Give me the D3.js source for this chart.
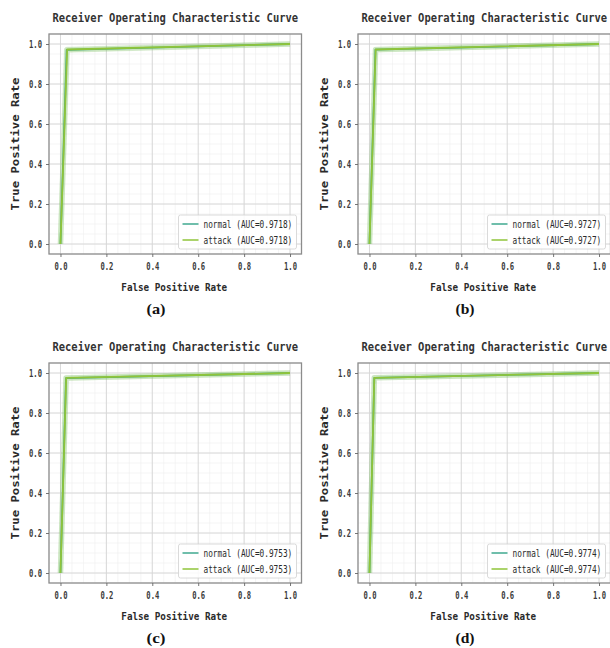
<!DOCTYPE html>
<html><head><meta charset="utf-8">
<script src="https://cdn.jsdelivr.net/npm/d3@7"></script>
<style>body{margin:0;background:#fff}svg{display:block}</style>
</head><body><svg id="c" width="610" height="648"></svg>
<script>
const panelLabels = ["(a)", "(b)", "(c)", "(d)"];
const titleText = "Receiver Operating Characteristic Curve";
const xLabelText = "False Positive Rate";
const yLabelText = "True Positive Rate";
const seriesNames = ["normal", "attack"];
const aucValues = [0.9718, 0.9727, 0.9753, 0.9774];
const fprNormal = [[0, 0.027, 1], [0, 0.026, 1], [0, 0.024, 1], [0, 0.021, 1]];
const tprNormal = [[0, 0.9706, 1], [0, 0.9714, 1], [0, 0.9746, 1], [0, 0.9758, 1]];
const fprAttack = [[0, 0.029, 1], [0, 0.027, 1], [0, 0.025, 1], [0, 0.021, 1]];
const tprAttack = [[0, 0.9726, 1], [0, 0.9724, 1], [0, 0.9756, 1], [0, 0.9758, 1]];
const tickValues = [0, 0.2, 0.4, 0.6, 0.8, 1.0];
const tickLabels = ["0.0", "0.2", "0.4", "0.6", "0.8", "1.0"];

const colors = {normal: "#3fa98f", attack: "#8fc43a"};
const mono = "'DejaVu Sans Mono', 'Liberation Mono', monospace";
const svg = d3.select("#c");

const x = d3.scaleLinear().domain([-0.05, 1.05]).range([49, 301.5]);
const y = d3.scaleLinear().domain([-0.05, 1.05]).range([254, 34]);
const minorTicks = d3.range(-0.05, 1.0501, 0.05);

function condText(parent, str, px, py, size, width, anchor, weight, fill, family) {
  const t = parent.append("text").attr("font-family", family || mono).attr("font-size", size)
    .attr("font-weight", weight || "normal").attr("fill", fill || "#2a2a2a")
    .attr("text-anchor", anchor).text(str);
  const nat = t.node().getComputedTextLength();
  const sx = width ? width / nat : 1;
  t.attr("transform", `translate(${px},${py}) scale(${sx},1)`);
  return t;
}

panelLabels.forEach((lab, i) => {
  const col = i % 2, row = Math.floor(i / 2);
  const g = svg.append("g").attr("transform", `translate(${309 * col},${329 * row})`);
  const clipId = "clip" + i;
  g.append("clipPath").attr("id", clipId).append("rect")
    .attr("x", x.range()[0]).attr("y", y.range()[1])
    .attr("width", x.range()[1] - x.range()[0]).attr("height", y.range()[0] - y.range()[1]);

  const grid = g.append("g");
  minorTicks.forEach(t => {
    grid.append("line").attr("x1", x(t)).attr("x2", x(t)).attr("y1", y.range()[1]).attr("y2", y.range()[0])
      .attr("stroke", "#eeeeee").attr("stroke-width", 0.6);
    grid.append("line").attr("y1", y(t)).attr("y2", y(t)).attr("x1", x.range()[0]).attr("x2", x.range()[1])
      .attr("stroke", "#eeeeee").attr("stroke-width", 0.6);
  });
  tickValues.forEach(t => {
    grid.append("line").attr("x1", x(t)).attr("x2", x(t)).attr("y1", y.range()[1]).attr("y2", y.range()[0])
      .attr("stroke", "#d6d6d6").attr("stroke-width", 0.9);
    grid.append("line").attr("y1", y(t)).attr("y2", y(t)).attr("x1", x.range()[0]).attr("x2", x.range()[1])
      .attr("stroke", "#d6d6d6").attr("stroke-width", 0.9);
  });

  const line = d3.line().x(d => x(d[0])).y(d => y(d[1]));
  const curves = [
    {name: "normal", pts: d3.zip(fprNormal[i], tprNormal[i])},
    {name: "attack", pts: d3.zip(fprAttack[i], tprAttack[i])}
  ];
  const cg = g.append("g").attr("clip-path", `url(#${clipId})`);
  curves.forEach(c => {
    cg.append("path").attr("d", line(c.pts)).attr("fill", "none")
      .attr("stroke", "#7cc060").attr("stroke-width", 5.5).attr("stroke-opacity", 0.22)
      .attr("stroke-linejoin", "round");
  });
  curves.forEach(c => {
    cg.append("path").attr("d", line(c.pts)).attr("fill", "none")
      .attr("stroke", colors[c.name]).attr("stroke-width", 1.8)
      .attr("stroke-linejoin", "round");
  });

  g.append("rect").attr("x", x.range()[0]).attr("y", y.range()[1])
    .attr("width", x.range()[1] - x.range()[0]).attr("height", y.range()[0] - y.range()[1])
    .attr("fill", "none").attr("stroke", "#8c8c8c").attr("stroke-width", 1.3);

  const xAxis = d3.axisBottom(x).tickValues(tickValues).tickFormat("").tickSize(3);
  const yAxis = d3.axisLeft(y).tickValues(tickValues).tickFormat("").tickSize(3);
  const xg = g.append("g").attr("transform", `translate(0,${y.range()[0]})`).call(xAxis);
  const yg = g.append("g").attr("transform", `translate(${x.range()[0]},0)`).call(yAxis);
  [xg, yg].forEach(ag => {
    ag.select(".domain").remove();
    ag.selectAll(".tick line").attr("stroke", "#666").attr("stroke-width", 0.9);
  });
  xg.selectAll(".tick").each(function(d, k) {
    condText(d3.select(this), tickLabels[k], 0, 16, 10, 13, "middle", "bold", "#3a3a3a");
  });
  yg.selectAll(".tick").each(function(d, k) {
    condText(d3.select(this), tickLabels[k], -7, 3.5, 10, 13, "end", "bold", "#3a3a3a");
  });

  const cx = (x.range()[0] + x.range()[1]) / 2;
  condText(g, titleText, cx, 22, 12.5, 246, "middle", "bold", "#333");
  condText(g, xLabelText, cx - 1, 291, 11, 106, "middle", "bold", "#2a2a2a");
  g.append("text").attr("transform", `translate(19,${(y.range()[0] + y.range()[1]) / 2}) rotate(-90)`)
    .attr("text-anchor", "middle").attr("font-family", mono).attr("font-size", 11).attr("font-weight", "bold")
    .attr("fill", "#2a2a2a").attr("textLength", 133).attr("lengthAdjust", "spacingAndGlyphs").text(yLabelText);
  condText(g, lab, 156, 314, 15, 19, "middle", "bold", "#111", "'Liberation Serif', 'Times New Roman', serif");

  const lx = x.range()[1] - 5, ly = y.range()[0] - 5;
  const lg = g.append("g");
  lg.append("rect").attr("x", lx - 118).attr("y", ly - 34).attr("width", 118).attr("height", 34)
    .attr("rx", 2).attr("fill", "#fff").attr("fill-opacity", 0.85).attr("stroke", "#d0d0d0").attr("stroke-width", 0.8);
  seriesNames.forEach((s, k) => {
    const yy = ly - 25 + k * 16;
    lg.append("line").attr("x1", lx - 114).attr("x2", lx - 98).attr("y1", yy).attr("y2", yy)
      .attr("stroke", colors[s]).attr("stroke-width", 1.5);
    condText(lg, `${s} (AUC=${aucValues[i].toFixed(4)})`, lx - 93, yy + 3.5, 10, 89, "start", "normal", "#2a2a2a");
  });
});
</script></body></html>
